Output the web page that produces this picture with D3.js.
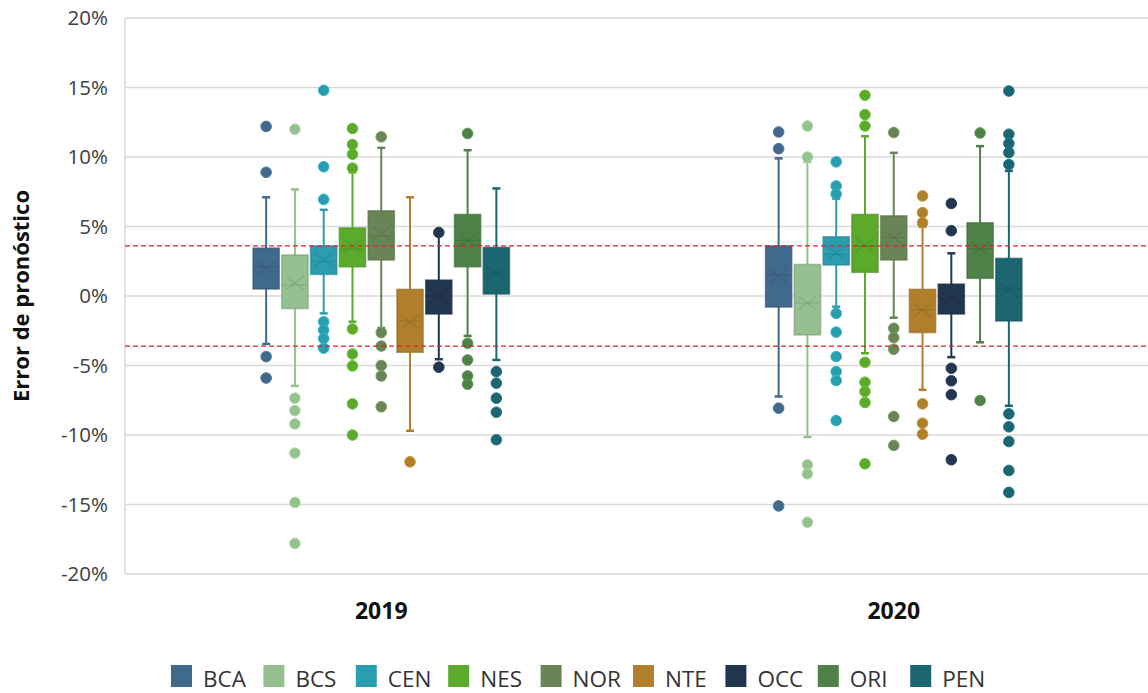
<!DOCTYPE html>
<html>
<head>
<meta charset="utf-8">
<script src="https://cdn.jsdelivr.net/npm/d3@7"></script>
<style>
  html, body { margin: 0; padding: 0; background: #fff; }
  svg { display: block; font-family: "Open Sans", "Noto Sans", sans-serif; }
</style>
</head>
<body>
<svg id="chart" width="1148" height="693"></svg>
<script>
const series = ["BCA", "BCS", "CEN", "NES", "NOR", "NTE", "OCC", "ORI", "PEN"];
const years = ["2019", "2020"];
const colors = ["#41698C", "#95C08F", "#2B9DB0", "#5BAA2C", "#6A8555", "#B07F2B", "#22364F", "#4E8248", "#1B6671"];
const yTicks = [20, 15, 10, 5, 0, -5, -10, -15, -20];
const refLines = [3.6, -3.6];

// 2019
const q1_2019 = [0.5, -0.9, 1.55, 2.1, 2.59, -4.05, -1.3, 2.1, 0.14];
const q3_2019 = [3.45, 2.95, 3.6, 4.9, 6.13, 0.48, 1.15, 5.87, 3.5];
const median_2019 = [2.1, 0.8, 2.5, 3.4, 4.3, -1.8, 0.0, 4.0, 1.6];
const mean_2019 = [2.0, 0.93, 2.6, 3.6, 4.5, -1.85, 0.0, 4.0, 1.6];
const whiskerHigh_2019 = [7.1, 7.67, 6.2, 8.9, 10.66, 7.1, 4.4, 10.49, 7.74];
const whiskerLow_2019 = [-3.45, -6.47, -1.25, -1.85, -2.3, -9.7, -4.55, -2.87, -4.6];
const outliers_2019 = [
  [12.2, 8.9, -4.36, -5.9],
  [12.0, -7.35, -8.24, -9.2, -11.3, -14.85, -17.8],
  [14.8, 9.3, 6.95, -1.85, -2.45, -3.05, -3.75],
  [12.05, 10.9, 10.2, 9.2, -2.37, -4.17, -5.03, -7.76, -10.0],
  [11.45, -2.63, -3.6, -5.0, -5.75, -7.97],
  [-11.93],
  [4.57, -5.12],
  [11.69, -3.4, -4.6, -5.75, -6.35],
  [-5.44, -6.27, -7.35, -8.36, -10.34]
];

// 2020
const q1_2020 = [-0.8, -2.8, 2.23, 1.7, 2.59, -2.63, -1.3, 1.27, -1.8];
const q3_2020 = [3.6, 2.27, 4.26, 5.87, 5.77, 0.48, 0.86, 5.27, 2.71];
const median_2020 = [1.5, -0.5, 3.0, 3.6, 4.2, -1.0, -0.2, 3.4, 0.5];
const mean_2020 = [1.4, -0.5, 3.1, 3.67, 4.2, -1.0, -0.17, 3.4, 0.43];
const whiskerHigh_2020 = [9.9, 9.65, 7.0, 11.5, 10.3, 4.98, 3.07, 10.78, 9.0];
const whiskerLow_2020 = [-7.23, -10.15, -0.77, -4.12, -1.56, -6.75, -4.4, -3.33, -7.9];
const outliers_2020 = [
  [11.8, 10.6, -8.07, -15.1],
  [12.23, 10.0, -12.14, -12.79, -16.28],
  [9.65, 7.92, 7.33, -1.25, -2.6, -4.36, -5.44, -6.08, -8.96],
  [14.44, 13.05, 12.23, -4.77, -6.2, -6.87, -7.66, -12.07],
  [11.76, -2.32, -2.99, -3.83, -8.67, -10.75],
  [7.2, 6.0, 5.27, -7.76, -9.15, -9.94],
  [6.66, 4.7, -5.2, -6.1, -7.1, -11.78],
  [11.73, -7.52],
  [14.75, 11.64, 10.97, 10.32, 9.46, -8.48, -9.41, -10.47, -12.55, -14.13]
];

const yearData = {
  "2019": { q1: q1_2019, q3: q3_2019, med: median_2019, mean: mean_2019, hi: whiskerHigh_2019, lo: whiskerLow_2019, out: outliers_2019 },
  "2020": { q1: q1_2020, q3: q3_2020, med: median_2020, mean: mean_2020, hi: whiskerHigh_2020, lo: whiskerLow_2020, out: outliers_2020 }
};

const svg = d3.select("#chart");
const pLeft = 125, pRight = 1150, pTop = 18, pBottom = 574;

const y = d3.scaleLinear().domain([-20, 20]).range([pBottom, pTop]);
const x = d3.scaleBand().domain(years).range([pLeft, pRight]);
const inner = d3.scaleBand().domain(series).range([0, 258]).paddingInner(0.035);

// gridlines
svg.append("g").selectAll("line").data(yTicks).join("line")
  .attr("x1", pLeft).attr("x2", 1148)
  .attr("y1", d => y(d)).attr("y2", d => y(d))
  .attr("stroke", "#d9d9d9").attr("stroke-width", 1.5);

// left axis line
svg.append("line").attr("x1", pLeft).attr("x2", pLeft).attr("y1", pTop).attr("y2", pBottom)
  .attr("stroke", "#d9d9d9").attr("stroke-width", 1.5);

// y tick labels
const yAxis = d3.axisLeft(y).tickValues(yTicks).tickFormat(d => d + "%").tickSize(0).tickPadding(17);
const ga = svg.append("g").attr("transform", `translate(${pLeft},0)`).call(yAxis);
ga.select(".domain").remove();
ga.selectAll("text").attr("font-size", 20.5).attr("fill", "#404040")
  .attr("font-family", "'Open Sans', sans-serif");

// y axis title
svg.append("text")
  .attr("transform", `translate(29, ${(pTop + pBottom) / 2}) rotate(-90)`)
  .attr("text-anchor", "middle")
  .attr("font-size", 22).attr("font-weight", "bold").attr("fill", "#111")
  .attr("font-family", "'Open Sans', sans-serif")
  .text("Error de pronóstico");

// x labels
const gx = svg.append("g").attr("transform", `translate(0,${pBottom})`)
  .call(d3.axisBottom(x).tickSize(0).tickPadding(29));
gx.select(".domain").remove();
gx.selectAll("text").attr("font-size", 23).attr("font-weight", "bold").attr("fill", "#111")
  .attr("font-family", "'Open Sans', sans-serif");

// boxes
const bw = inner.bandwidth();
years.forEach(yr => {
  const d = yearData[yr];
  const x0 = x(yr) + x.bandwidth() / 2 - 129;
  const g = svg.append("g");
  series.forEach((s, i) => {
    const c = colors[i];
    const dark = d3.color(c).darker(0.6).formatHex();
    const cx = x0 + inner(s) + bw / 2;
    const gs = g.append("g");
    // whiskers
    gs.append("line").attr("x1", cx).attr("x2", cx).attr("y1", y(d.hi[i])).attr("y2", y(d.q3[i]))
      .attr("stroke", c).attr("stroke-width", 2);
    gs.append("line").attr("x1", cx).attr("x2", cx).attr("y1", y(d.q1[i])).attr("y2", y(d.lo[i]))
      .attr("stroke", c).attr("stroke-width", 2);
    [d.hi[i], d.lo[i]].forEach(v => {
      gs.append("line").attr("x1", cx - 4).attr("x2", cx + 4).attr("y1", y(v)).attr("y2", y(v))
        .attr("stroke", c).attr("stroke-width", 2.5);
    });
    // box
    gs.append("rect")
      .attr("x", cx - bw / 2 + 0.75).attr("width", bw - 1.5)
      .attr("y", y(d.q3[i])).attr("height", y(d.q1[i]) - y(d.q3[i]))
      .attr("fill", c).attr("stroke", dark).attr("stroke-width", 1.5).attr("stroke-opacity", 0.6);
    // median
    gs.append("line").attr("x1", cx - bw / 2 + 1.5).attr("x2", cx + bw / 2 - 1.5)
      .attr("y1", y(d.med[i])).attr("y2", y(d.med[i]))
      .attr("stroke", dark).attr("stroke-width", 1.2).attr("stroke-opacity", 0.5);
    // mean X
    const my = y(d.mean[i]), s2 = 9;
    gs.append("path")
      .attr("d", `M${cx - s2},${my - s2 * 0.75}L${cx + s2},${my + s2 * 0.75}M${cx - s2},${my + s2 * 0.75}L${cx + s2},${my - s2 * 0.75}`)
      .attr("stroke", dark).attr("stroke-width", 1.3).attr("stroke-opacity", 0.5).attr("fill", "none");
    // outliers
    gs.selectAll("circle").data(d.out[i]).join("circle")
      .attr("cx", cx).attr("cy", v => y(v)).attr("r", 5.3)
      .attr("fill", c).attr("stroke", d3.color(c).brighter(0.4).formatHex()).attr("stroke-width", 1);
  });
});

// reference dashed lines
svg.append("g").selectAll("line").data(refLines).join("line")
  .attr("x1", pLeft).attr("x2", 1148)
  .attr("y1", d => y(d)).attr("y2", d => y(d))
  .attr("stroke", "#e0202a").attr("stroke-width", 1.3).attr("stroke-dasharray", "5,3");

// legend
const lg = svg.append("g").attr("transform", "translate(171,665)");
const step = 92.4;
series.forEach((s, i) => {
  const gi = lg.append("g").attr("transform", `translate(${i * step},0)`);
  gi.append("rect").attr("x", 0).attr("y", 0).attr("width", 21).attr("height", 22).attr("fill", colors[i]);
  gi.append("text").attr("x", 32).attr("y", 22).attr("font-size", 22.5).attr("fill", "#333")
    .attr("textLength", null)
    .attr("font-family", "'Open Sans', sans-serif").text(s);
});
</script>
</body>
</html>
